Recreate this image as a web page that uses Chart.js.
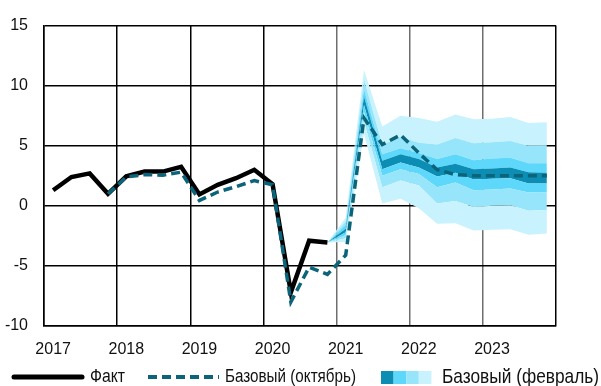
<!DOCTYPE html>
<html>
<head>
<meta charset="utf-8">
<script src="https://cdn.jsdelivr.net/npm/chart.js@4.4.1/dist/chart.umd.min.js"></script>
<style>
  html, body { margin: 0; padding: 0; background: #fff; }
  #wrap { width: 601px; height: 386px; }
</style>
</head>
<body>
<div id="wrap"><canvas id="gdpChart" width="601" height="386"></canvas></div>
<script>
const FONT = '"Liberation Sans", Arial, sans-serif';

const years = ['2017', '2018', '2019', '2020', '2021', '2022', '2023'];
const quarterLabels = years.flatMap((y) => ['I', 'II', 'III', 'IV'].map((q) => `${q} ${y}`));
const yTicks = [-10, -5, 0, 5, 10, 15];

// факт
const fact = [1.3, 2.4, 2.7, 1.0, 2.45, 2.85, 2.85, 3.25, 0.95, 1.75, 2.3, 3.0, 1.8, -7.2, -2.9, -3.05,
  null, null, null, null, null, null, null, null, null, null, null, null];

// базовый (октябрь)
const baseOct = [null, null, null, 1.0, 2.4, 2.6, 2.55, 2.8, 0.45, 1.15, 1.6, 2.1, 1.75, -8.0, -5.1, -5.7,
  -4.1, 7.3, 5.1, 5.9, 4.4, 3.0, 2.6, 2.5, 2.5, 2.5, 2.5, 2.5];

// базовый (февраль): границы веера, начиная с IV кв. 2020
const pad = Array(15).fill(null);
const fanLow3 = pad.concat([-3.05, -3.0, 6.0, 0.2, 0.6, -0.2, -1.5, -1.45, -2.05, -2.0, -1.95, -2.4, -2.3]);
const fanLow2 = pad.concat([-3.05, -2.7, 7.0, 1.55, 2.1, 1.7, 0.2, 0.4, -0.1, 0.0, 0.05, -0.4, -0.35]);
const fanLow1 = pad.concat([-3.05, -2.45, 7.8, 2.5, 3.05, 2.65, 1.55, 1.95, 1.3, 1.35, 1.45, 1.1, 1.1]);
const fanLow0 = pad.concat([-3.05, -2.2, 8.4, 3.05, 3.6, 3.2, 2.45, 2.75, 2.2, 2.25, 2.3, 1.85, 1.85]);
const fanUp0 = pad.concat([-3.05, -1.9, 9.1, 3.75, 4.3, 3.9, 3.2, 3.5, 3.05, 3.1, 3.2, 2.8, 2.75]);
const fanUp1 = pad.concat([-3.05, -1.6, 9.7, 4.3, 4.8, 4.4, 3.9, 4.3, 3.8, 3.95, 4.0, 3.55, 3.55]);
const fanUp2 = pad.concat([-3.05, -1.3, 10.5, 5.1, 5.7, 5.25, 5.1, 5.65, 5.2, 5.3, 5.4, 5.0, 5.0]);
const fanUp3 = pad.concat([-3.05, -1.0, 11.3, 6.6, 7.5, 7.3, 7.0, 7.6, 7.2, 7.25, 7.4, 6.9, 6.95]);

const fanColors = ['#0b8db4', '#5dd7fa', '#97e5fb', '#c8f2fd'];
const dashColor = '#0b6479';

const fanBand = (data, color) => ({
  data,
  borderWidth: 0,
  pointRadius: 0,
  tension: 0,
  fill: '-1',
  backgroundColor: color,
});

// легенда рисуется вручную: у веера четыре квадрата
const legendPlugin = {
  id: 'customLegend',
  afterDraw(chart) {
    const { ctx } = chart;
    const y = 377;
    ctx.save();
    ctx.lineCap = 'round';
    ctx.strokeStyle = '#000';
    ctx.lineWidth = 5;
    ctx.beginPath();
    ctx.moveTo(14, y);
    ctx.lineTo(82, y);
    ctx.stroke();

    ctx.lineCap = 'butt';
    ctx.strokeStyle = dashColor;
    ctx.lineWidth = 4;
    ctx.setLineDash([9, 5]);
    ctx.beginPath();
    ctx.moveTo(148, y);
    ctx.lineTo(219, y);
    ctx.stroke();
    ctx.setLineDash([]);

    fanColors.forEach((c, i) => {
      ctx.fillStyle = c;
      ctx.fillRect(381 + i * 12.6, 371, 12.6, 13);
    });

    ctx.fillStyle = '#111';
    ctx.textBaseline = 'middle';
    ctx.font = `18px ${FONT}`;
    ctx.fillText('Факт', 90, y, 35);
    ctx.fillText('Базовый (октябрь)', 225, y, 131);
    ctx.font = `21px ${FONT}`;
    ctx.fillText('Базовый (февраль)', 442, y, 157);
    ctx.restore();
  },
};

const gridColorX = (ctx) => {
  if (ctx.type !== 'tick') return '#000';
  if (ctx.index % 4 !== 0) return 'rgba(0,0,0,0)';
  return ctx.index >= 16 ? '#6e6e6e' : '#000';
};

new Chart(document.getElementById('gdpChart'), {
  type: 'line',
  data: {
    labels: quarterLabels,
    datasets: [
      {
        data: baseOct,
        borderColor: dashColor,
        borderWidth: 3.5,
        borderDash: [9, 5],
        pointRadius: 0,
        tension: 0,
        fill: false,
      },
      {
        data: fact,
        borderColor: '#000',
        borderWidth: 4.5,
        pointRadius: 0,
        tension: 0,
        fill: false,
      },
      { data: fanLow3, borderWidth: 0, pointRadius: 0, tension: 0, fill: false },
      fanBand(fanLow2, fanColors[3]),
      fanBand(fanLow1, fanColors[2]),
      fanBand(fanLow0, fanColors[1]),
      fanBand(fanUp0, fanColors[0]),
      fanBand(fanUp1, fanColors[1]),
      fanBand(fanUp2, fanColors[2]),
      fanBand(fanUp3, fanColors[3]),
    ],
  },
  options: {
    responsive: false,
    animation: false,
    devicePixelRatio: 1,
    layout: { padding: { top: 21, right: 45, bottom: 0, left: 0 } },
    plugins: { legend: { display: false }, tooltip: { enabled: false } },
    scales: {
      x: {
        offset: true,
        grid: { offset: true, drawTicks: false, color: gridColorX, lineWidth: 1.5 },
        border: { color: '#000', width: 1.5 },
        ticks: {
          autoSkip: false,
          maxRotation: 0,
          padding: 14,
          color: '#111',
          font: { family: FONT, size: 16 },
          callback: (value, index) => (index % 4 === 0 ? years[index / 4] : ''),
        },
        afterFit: (scale) => { scale.height = 60; },
      },
      y: {
        min: -10,
        max: 15,
        afterBuildTicks: (scale) => { scale.ticks = yTicks.map((v) => ({ value: v })); },
        grid: { drawTicks: false, color: '#000', lineWidth: 1.5 },
        border: { color: '#000', width: 1.5 },
        ticks: {
          padding: 16,
          color: '#111',
          font: { family: FONT, size: 16 },
        },
        afterFit: (scale) => { scale.width = 44; },
      },
    },
  },
  plugins: [legendPlugin],
});
</script>
</body>
</html>
